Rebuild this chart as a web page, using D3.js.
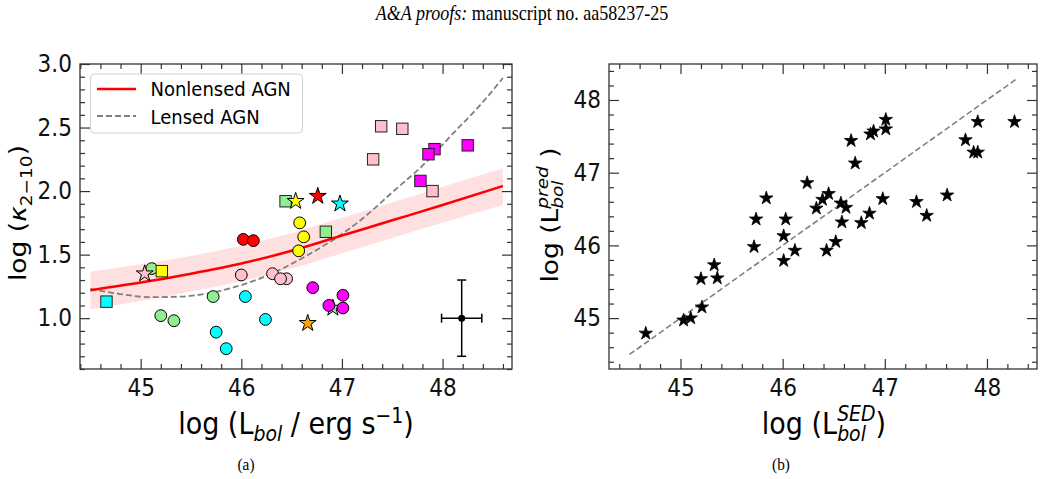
<!DOCTYPE html>
<html>
<head>
<meta charset="utf-8">
<script src="https://cdn.jsdelivr.net/npm/d3@7"></script>
<style>
  body { margin: 0; background: #fff; }
  svg { display: block; }
</style>
</head>
<body>
<div id="wrapper"></div>
<script>
// ---- panel (a): log L_bol vs log kappa ----
const leftLum   = [45.11, 45.20, 45.33, 45.72, 45.75, 45.85, 46.04, 46.24, 46.02, 46.12,
                   46.00, 46.31, 46.45, 46.39, 46.58, 46.62, 46.57,
                   44.66, 45.21, 46.44, 46.84, 47.31, 47.39, 47.60, 47.92, 47.86, 48.25, 47.78, 47.90,
                   45.04, 46.54, 46.76, 46.98, 46.66, 46.91,
                   46.71, 47.01, 47.01, 46.87];
const leftKappa = [1.39, 1.02, 0.98, 1.17, 0.89, 0.76, 1.17, 0.99, 1.62, 1.61,
                   1.34, 1.35, 1.31, 1.31, 1.75, 1.64, 1.53,
                   1.13, 1.37, 1.92, 1.68, 2.25, 2.51, 2.49, 2.33, 2.29, 2.36, 2.08, 2.00,
                   1.35, 1.92, 1.96, 1.90, 0.96, 1.08,
                   1.24, 1.18, 1.08, 1.10];
const leftShape = ["o","o","o","o","o","o","o","o","o","o",
                   "o","o","o","o","o","o","o",
                   "s","s","s","s","s","s","s","s","s","s","s","s",
                   "*","*","*","*","*","*",
                   "o","o","o","o"];
const leftColor = ["lightgreen","lightgreen","lightgreen","lightgreen","cyan","cyan","cyan","cyan","red","red",
                   "pink","pink","pink","pink","yellow","yellow","yellow",
                   "cyan","yellow","lightgreen","lightgreen","pink","pink","pink","magenta","magenta","magenta","magenta","pink",
                   "pink","yellow","red","cyan","orange","lightgreen",
                   "magenta","magenta","magenta","magenta"];

// fitted relations
const nonlensedX = [44.5, 45.0, 45.5, 46.0, 46.5, 47.0, 47.5, 48.0, 48.6];
const nonlensedY = [1.22, 1.28, 1.35, 1.43, 1.53, 1.65, 1.77, 1.89, 2.04];
const bandUpper  = [1.365, 1.425, 1.49, 1.57, 1.67, 1.79, 1.91, 2.035, 2.18];
const bandLower  = [1.07, 1.135, 1.21, 1.29, 1.39, 1.51, 1.63, 1.75, 1.89];
const lensedX = [44.5, 44.8, 45.1, 45.4, 45.7, 46.0, 46.3, 46.6, 46.9, 47.2, 47.5, 47.8, 48.1, 48.4, 48.6];
const lensedY = [1.23, 1.19, 1.165, 1.17, 1.20, 1.26, 1.35, 1.47, 1.61, 1.78, 1.99, 2.20, 2.45, 2.70, 2.89];

// typical uncertainty
const errX = 48.19, errY = 1.0, errDX = 0.2, errDY = 0.3;

// ---- panel (b): SED vs predicted L_bol ----
const sedLum  = [44.66, 45.03, 45.10, 45.21, 45.20, 45.33, 45.36, 45.72, 45.74, 45.84,
                 46.01, 46.01, 46.03, 46.12, 46.24, 46.33, 46.39, 46.45, 46.43, 46.52,
                 46.57, 46.58, 46.62, 46.67, 46.71, 46.77, 46.85, 46.86, 46.89, 46.98,
                 47.01, 47.01, 47.31, 47.41, 47.61, 47.79, 47.87, 47.91, 47.91, 48.27];
const predLum = [44.79, 44.97, 45.00, 45.15, 45.54, 45.73, 45.55, 45.98, 46.36, 46.65,
                 46.13, 45.79, 46.36, 45.93, 46.86, 46.51, 46.63, 46.71, 45.93, 46.05,
                 46.58, 46.32, 46.52, 47.44, 47.13, 46.31, 46.44, 47.53, 47.57, 46.64,
                 47.60, 47.73, 46.60, 46.41, 46.69, 47.45, 47.28, 47.28, 47.70, 47.70];
const oneToOne = [44.5, 48.3];

// ticks
const leftXTicks  = [45, 46, 47, 48];
const leftYTicks  = [1.0, 1.5, 2.0, 2.5, 3.0];
const rightTicks  = [45, 46, 47, 48];

const SX = 0.9; // horizontal squeeze of the text in the scan
const FONT = "DejaVu Sans";
const colors = { cyan: "#00ffff", yellow: "#ffff00", lightgreen: "#90ee90", pink: "#ffc0cb",
                 magenta: "#ff00ff", red: "#ff0000", orange: "#ffa500" };

const svg = d3.select("#wrapper").append("svg")
  .attr("width", 1044).attr("height", 479)
  .style("font-family", FONT);

function addText(parent, x, y, str, size, opts = {}) {
  const t = parent.append("text")
    .attr("transform", `translate(${x},${y}) scale(${SX},1)` + (opts.rotate ? " rotate(-90)" : ""))
    .attr("text-anchor", opts.anchor || "middle")
    .attr("font-size", size)
    .attr("fill", "#000");
  if (opts.family) t.attr("font-family", opts.family);
  if (str) t.text(str);
  return t;
}

// frame + inward ticks on all four sides
function drawAxes(x, y, xMajor, yMajor, xMinorStep, yMinorStep, yFmt) {
  const [x0, x1] = x.range(), [y0, y1] = y.range();
  const xd = x.domain(), yd = y.domain();
  const xMinor = d3.range(Math.ceil(xd[0] / xMinorStep) * xMinorStep, xd[1], xMinorStep)
    .filter(v => !xMajor.some(m => Math.abs(m - v) < 1e-6));
  const yMinor = d3.range(Math.ceil(yd[0] / yMinorStep - 1e-6) * yMinorStep, yd[1], yMinorStep)
    .filter(v => !yMajor.some(m => Math.abs(m - v) < 1e-6));

  const add = (axis, tr) => {
    const g = svg.append("g").attr("transform", tr).call(axis);
    g.select(".domain").remove();
    g.selectAll(".tick line").attr("stroke", "#333").attr("stroke-width", 1.2);
    g.selectAll("text").attr("font-family", FONT).attr("font-size", 24).attr("fill", "#111")
      .attr("transform", `scale(${SX},1)`);
    return g;
  };
  add(d3.axisBottom(x).tickValues(xMajor).tickSize(-10).tickPadding(10).tickFormat(d3.format("d")), `translate(0,${y0})`);
  add(d3.axisBottom(x).tickValues(xMinor).tickSize(-5).tickFormat(""), `translate(0,${y0})`);
  add(d3.axisTop(x).tickValues(xMajor).tickSize(-10).tickFormat(""), `translate(0,${y1})`);
  add(d3.axisTop(x).tickValues(xMinor).tickSize(-5).tickFormat(""), `translate(0,${y1})`);
  add(d3.axisLeft(y).tickValues(yMajor).tickSize(-10).tickPadding(9).tickFormat(yFmt), `translate(${x0},0)`);
  add(d3.axisLeft(y).tickValues(yMinor).tickSize(-5).tickFormat(""), `translate(${x0},0)`);
  add(d3.axisRight(y).tickValues(yMajor).tickSize(-10).tickFormat(""), `translate(${x1},0)`);
  add(d3.axisRight(y).tickValues(yMinor).tickSize(-5).tickFormat(""), `translate(${x1},0)`);

  svg.append("rect").attr("x", x0).attr("y", y1)
    .attr("width", x1 - x0).attr("height", y0 - y1)
    .attr("fill", "none").attr("stroke", "#333").attr("stroke-width", 1.3);
}

// label with subscript / superscript pieces
function mathLabel(x, y, size, parts, rotate) {
  const t = addText(svg, x, y, null, size, { rotate });
  const small = size * 0.7;
  let shift = 0;
  parts.forEach(p => {
    if (p.sub && p.sup) {
      const a = t.append("tspan").attr("font-size", small).attr("font-style", "italic")
        .attr("dy", size * 0.22 - shift).text(p.sub);
      const w = a.node().getComputedTextLength();
      t.append("tspan").attr("font-size", small).attr("font-style", "italic")
        .attr("dx", -w).attr("dy", -size * 0.66).text(p.sup);
      shift = size * 0.22 - size * 0.66;
    } else if (p.sub) {
      t.append("tspan").attr("font-size", small).attr("font-style", p.italic ? "italic" : null)
        .attr("dy", size * 0.24 - shift).text(p.sub);
      shift = size * 0.24;
    } else if (p.sup) {
      t.append("tspan").attr("font-size", small).attr("font-style", p.italic ? "italic" : null)
        .attr("dy", -size * 0.38 - shift).text(p.sup);
      shift = -size * 0.38;
    } else {
      t.append("tspan").attr("font-style", p.italic ? "italic" : null)
        .attr("dy", -shift).text(p.t);
      shift = 0;
    }
  });
  return t;
}

// ================= panel (a) =================
const xA = d3.scaleLinear().domain([44.397, 48.69]).range([80, 512]);
const yA = d3.scaleLinear().domain([0.6, 3.0]).range([369, 64]);

const band = d3.area()
  .x((d, i) => xA(nonlensedX[i]))
  .y0((d, i) => yA(bandLower[i]))
  .y1((d, i) => yA(bandUpper[i]))
  .curve(d3.curveMonotoneX);
svg.append("path").attr("d", band(nonlensedX))
  .attr("fill", "#ff0000").attr("fill-opacity", 0.12);

const lineA = d3.line().x(d => xA(d[0])).y(d => yA(d[1])).curve(d3.curveMonotoneX);
svg.append("path").attr("d", lineA(lensedX.map((v, i) => [v, lensedY[i]])))
  .attr("fill", "none").attr("stroke", "#808080").attr("stroke-width", 1.8)
  .attr("stroke-dasharray", "6,3");
svg.append("path").attr("d", lineA(nonlensedX.map((v, i) => [v, nonlensedY[i]])))
  .attr("fill", "none").attr("stroke", "#ff0000").attr("stroke-width", 2.5);

// markers
const starBig = d3.symbol().type(d3.symbolStar).size(88);
leftLum.forEach((lx, i) => {
  const cx = xA(lx), cy = yA(leftKappa[i]), fill = colors[leftColor[i]];
  if (leftShape[i] === "o") {
    svg.append("circle").attr("cx", cx).attr("cy", cy).attr("r", 5.9)
      .attr("fill", fill).attr("stroke", "#000").attr("stroke-width", 1);
  } else if (leftShape[i] === "s") {
    svg.append("rect").attr("x", cx - 5.7).attr("y", cy - 5.7).attr("width", 11.4).attr("height", 11.4)
      .attr("fill", fill).attr("stroke", "#222").attr("stroke-width", 1);
  } else {
    svg.append("path").attr("d", starBig()).attr("transform", `translate(${cx},${cy})`)
      .attr("fill", fill).attr("stroke", "#000").attr("stroke-width", 1);
  }
});

// error bar
const eg = svg.append("g").attr("stroke", "#000").attr("stroke-width", 1.5);
eg.append("line").attr("x1", xA(errX - errDX)).attr("x2", xA(errX + errDX)).attr("y1", yA(errY)).attr("y2", yA(errY));
eg.append("line").attr("x1", xA(errX)).attr("x2", xA(errX)).attr("y1", yA(errY - errDY)).attr("y2", yA(errY + errDY));
[errX - errDX, errX + errDX].forEach(v => eg.append("line")
  .attr("x1", xA(v)).attr("x2", xA(v)).attr("y1", yA(errY) - 4.5).attr("y2", yA(errY) + 4.5));
[errY - errDY, errY + errDY].forEach(v => eg.append("line")
  .attr("x1", xA(errX) - 4.5).attr("x2", xA(errX) + 4.5).attr("y1", yA(v)).attr("y2", yA(v)));
svg.append("circle").attr("cx", xA(errX)).attr("cy", yA(errY)).attr("r", 3.5).attr("fill", "#000");

drawAxes(xA, yA, leftXTicks, leftYTicks, 0.2, 0.1, d3.format(".1f"));

// legend
const lg = svg.append("g");
lg.append("rect").attr("x", 90.5).attr("y", 74).attr("width", 212).attr("height", 59).attr("rx", 4)
  .attr("fill", "#fff").attr("fill-opacity", 0.8).attr("stroke", "#d0d0d0").attr("stroke-width", 1);
lg.append("line").attr("x1", 97).attr("x2", 136).attr("y1", 89).attr("y2", 89)
  .attr("stroke", "#ff0000").attr("stroke-width", 2.5);
lg.append("line").attr("x1", 97).attr("x2", 136).attr("y1", 116).attr("y2", 116)
  .attr("stroke", "#808080").attr("stroke-width", 1.8).attr("stroke-dasharray", "6,3");
addText(lg, 150.5, 96, "Nonlensed AGN", 20, { anchor: "start" });
addText(lg, 150.5, 123.5, "Lensed AGN", 20, { anchor: "start" });

// axis labels (a)
mathLabel(296, 434, 30, [{ t: "log (L" }, { sub: "bol", italic: true }, { t: " / erg s" }, { sup: "\u22121" }, { t: ")" }]);
mathLabel(26, 213, 26.5, [{ t: "log (" }, { t: "\u03ba", italic: true }, { sub: "2\u221210" }, { t: ")" }], true);

// ================= panel (b) =================
const xB = d3.scaleLinear().domain([44.30, 48.49]).range([609, 1037]);
const yB = d3.scaleLinear().domain([44.30, 48.495]).range([369, 64]);

svg.append("line")
  .attr("x1", xB(oneToOne[0])).attr("y1", yB(oneToOne[0]))
  .attr("x2", xB(oneToOne[1])).attr("y2", yB(oneToOne[1]))
  .attr("stroke", "#808080").attr("stroke-width", 1.6).attr("stroke-dasharray", "6,3");

const starSmall = d3.symbol().type(d3.symbolStar).size(56);
svg.append("g").selectAll("path").data(sedLum).join("path")
  .attr("d", starSmall())
  .attr("transform", (d, i) => `translate(${xB(d)},${yB(predLum[i])})`)
  .attr("fill", "#000").attr("stroke", "#000").attr("stroke-width", 0.8);

drawAxes(xB, yB, rightTicks, rightTicks, 0.2, 0.2, d3.format("d"));

mathLabel(824, 434, 30, [{ t: "log (L" }, { sub: "bol", sup: "SED" }, { t: ")" }]);
mathLabel(558, 215, 26.5, [{ t: "log (L" }, { sub: "bol", sup: "pred" }, { t: " )" }], true);

// page header and captions
const hdr = addText(svg, 522, 20, null, 20, { family: "Liberation Serif" });
hdr.append("tspan").attr("font-style", "italic").text("A&A proofs:");
hdr.append("tspan").text(" manuscript no. aa58237-25");
addText(svg, 246, 470, "(a)", 17, { family: "Liberation Serif" });
addText(svg, 781, 470, "(b)", 17, { family: "Liberation Serif" });
</script>
</body>
</html>
